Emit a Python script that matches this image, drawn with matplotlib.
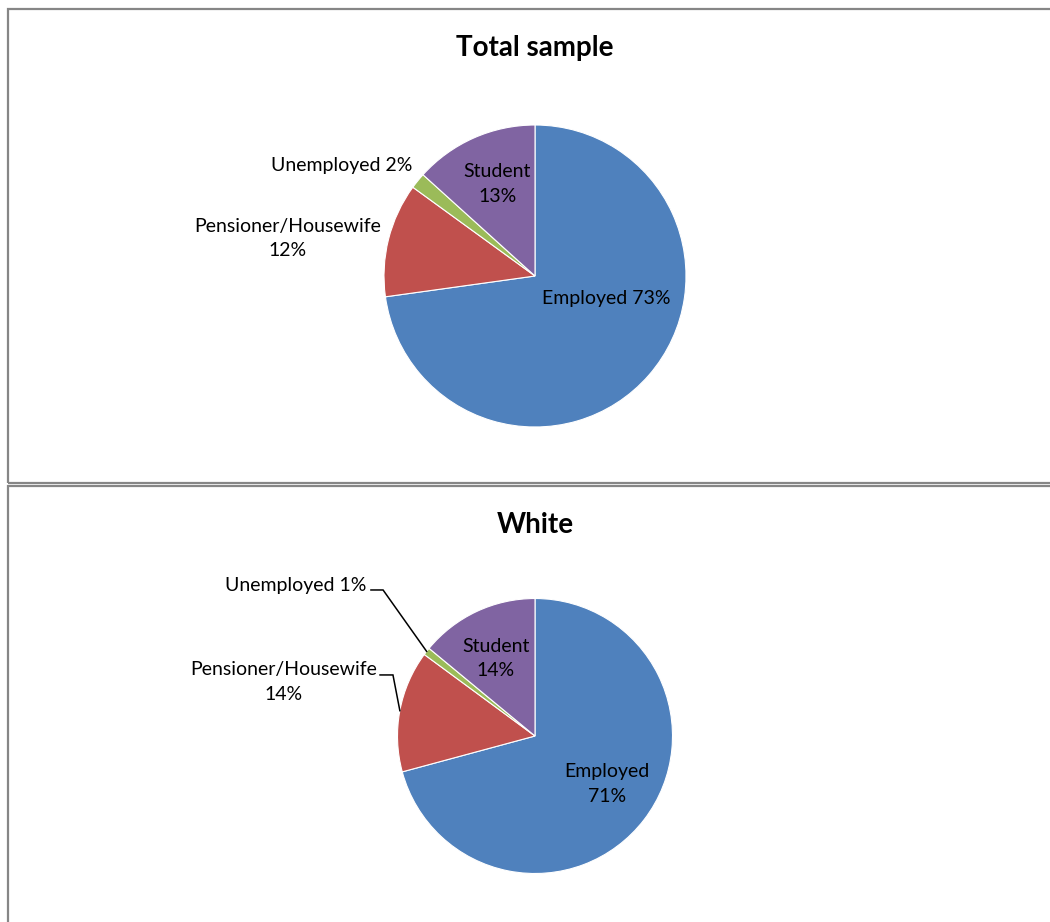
import matplotlib
matplotlib.use("Agg")
import matplotlib.pyplot as plt
from matplotlib.patches import Rectangle
import numpy as np

plt.rcParams['font.family'] = ['Lato', 'DejaVu Sans']

categories = ["Employed", "Pensioner/Housewife", "Unemployed", "Student"]
total_sample = [72.8, 12.2, 1.7, 13.3]
white = [70.8, 14.3, 0.9, 14.0]
colors = ["#4f81bd", "#c0504d", "#9bbb59", "#8064a2"]

W, H = 1050, 922
fig = plt.figure(figsize=(W / 100, H / 100), dpi=100)

# panel frames (pixel coords from top-left)
for (x0, y0, x1, y1) in [(8, 9, 1060, 483), (8, 486, 1060, 940)]:
    fig.patches.append(Rectangle((x0 / W, 1 - y1 / H), (x1 - x0) / W, (y1 - y0) / H,
                                 transform=fig.transFigure, fill=False,
                                 edgecolor="#868686", linewidth=1.6))


def pie_axes(cx, cy, r, span=1.7):
    half = span * r
    ax = fig.add_axes([(cx - half) / W, 1 - (cy + half) / H, 2 * half / W, 2 * half / H])
    return ax


def draw_pie(ax, values):
    wedges, _ = ax.pie(values, colors=colors, startangle=90, counterclock=False,
                       radius=1.0, center=(0, 0), frame=True,
                       wedgeprops=dict(edgecolor="white", linewidth=0.8))
    ax.set_xlim(-1.7, 1.7)
    ax.set_ylim(-1.7, 1.7)
    ax.set_aspect("equal")
    ax.axis("off")
    return wedges


def pct(v):
    return f"{round(v)}%"


fs = 14
ls = 1.55

# ---- Total sample
ax1 = pie_axes(535, 276, 151)
draw_pie(ax1, total_sample)
fig.text(535 / W, 1 - 48 / H, "Total sample", ha="center", va="center",
         fontsize=20, fontweight="bold")
ax1.text(0.47, -0.146, f"{categories[0]} {pct(total_sample[0])}", ha="center", va="center", fontsize=fs)
ax1.text(-1.64, 0.248, f"{categories[1]}\n{pct(total_sample[1])}", ha="center", va="center",
         fontsize=fs, linespacing=ls)
ax1.text(-1.28, 0.735, f"{categories[2]} {pct(total_sample[2])}", ha="center", va="center", fontsize=fs)
ax1.text(-0.25, 0.609, f"{categories[3]}\n{pct(total_sample[3])}", ha="center", va="center",
         fontsize=fs, linespacing=ls)

# ---- White
ax2 = pie_axes(535, 736, 137.5)
w2 = draw_pie(ax2, white)
fig.text(535 / W, 1 - 525 / H, "White", ha="center", va="center",
         fontsize=20, fontweight="bold")
ax2.text(0.524, -0.349, f"{categories[0]}\n{pct(white[0])}", ha="center", va="center",
         fontsize=fs, linespacing=ls)
ax2.text(-1.83, 0.393, f"{categories[1]}\n{pct(white[1])}", ha="center", va="center",
         fontsize=fs, linespacing=ls)
ax2.text(-1.74, 1.098, f"{categories[2]} {pct(white[2])}", ha="center", va="center", fontsize=fs)
ax2.text(-0.284, 0.564, f"{categories[3]}\n{pct(white[3])}", ha="center", va="center",
         fontsize=fs, linespacing=ls)


def leader(ax, wedge, x_start, x_knee, y):
    mid = np.deg2rad((wedge.theta1 + wedge.theta2) / 2)
    ex, ey = np.cos(mid), np.sin(mid)
    ax.plot([x_start, x_knee, ex], [y, y, ey], color="black", linewidth=1.1,
            solid_joinstyle="miter")


leader(ax2, w2[2], -1.193, -1.105, 1.062)
leader(ax2, w2[1], -1.127, -1.033, 0.444)

fig.savefig("out.png", dpi=100)
